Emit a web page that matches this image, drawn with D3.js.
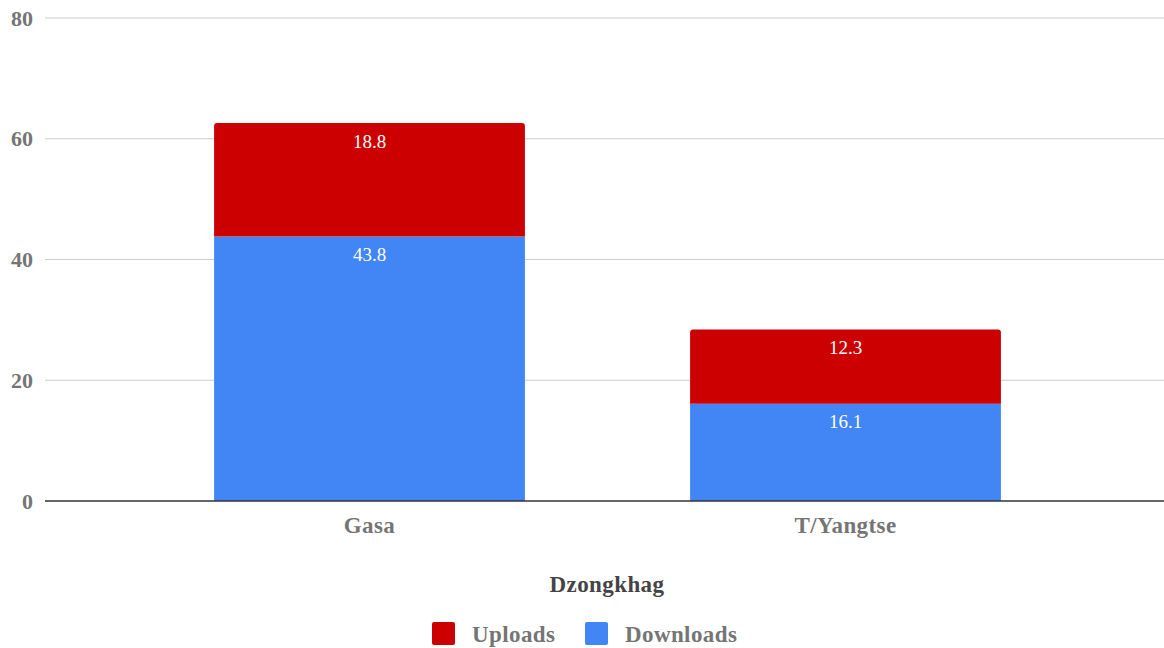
<!DOCTYPE html>
<html><head><meta charset="utf-8">
<script src="https://cdn.jsdelivr.net/npm/d3@7"></script>
<style>body{margin:0;background:#fff}svg{display:block}</style>
</head><body>
<svg id="c" width="1164" height="648"></svg>
<script>
const categories = ["Gasa", "T/Yangtse"];
const seriesNames = ["Downloads", "Uploads"];
const downloads = [43.8, 16.1];
const uploads = [18.8, 12.3];
const yTicks = [0, 20, 40, 60, 80];
const colors = {Downloads: "#4285f4", Uploads: "#cc0000"};

const svg = d3.select("#c");
const font = "'Liberation Serif','Times New Roman',serif";
const x = d3.scaleBand().domain(categories).range([131.5, 1083.5]).paddingInner(0.347).paddingOuter(0.1735);
const y = d3.scaleLinear().domain([0, 80]).range([501, 18]);

// gridlines
svg.append("g").selectAll("line").data(yTicks.filter(d => d !== 0)).join("line")
  .attr("x1", 45).attr("x2", 1164).attr("y1", d => y(d)).attr("y2", d => y(d))
  .attr("stroke", "#cccccc").attr("stroke-width", 1.2);

// y tick labels
svg.append("g").selectAll("text").data(yTicks).join("text")
  .attr("x", 33).attr("y", d => y(d)).attr("dy", "0.35em").attr("text-anchor", "end")
  .attr("font-family", font).attr("font-weight", "bold").attr("font-size", 22).attr("fill", "#757575")
  .text(d => d);

const rows = categories.map((c, i) => ({cat: c, Downloads: downloads[i], Uploads: uploads[i]}));
const stack = d3.stack().keys(seriesNames)(rows);

const bw = x.bandwidth();
stack.forEach((layer, li) => {
  const g = svg.append("g");
  layer.forEach(d => {
    const x0 = x(d.data.cat), y0 = y(d[0]), y1 = y(d[1]);
    const isTop = li === stack.length - 1;
    if (isTop) {
      const r = 3;
      g.append("path").attr("fill", colors[layer.key])
        .attr("d", `M${x0},${y0}V${y1 + r}Q${x0},${y1} ${x0 + r},${y1}H${x0 + bw - r}Q${x0 + bw},${y1} ${x0 + bw},${y1 + r}V${y0}Z`);
    } else {
      g.append("rect").attr("x", x0).attr("y", y1).attr("width", bw).attr("height", y0 - y1).attr("fill", colors[layer.key]);
    }
    g.append("text").attr("x", x0 + bw / 2).attr("y", y1 + 18).attr("dy", "0.35em").attr("text-anchor", "middle")
      .attr("font-family", font).attr("font-size", 19).attr("fill", "#ffffff")
      .text((d[1] - d[0]).toFixed(1));
  });
});

// baseline
svg.append("line").attr("x1", 45).attr("x2", 1164).attr("y1", y(0)).attr("y2", y(0))
  .attr("stroke", "#333333").attr("stroke-width", 1.5);

// category labels
svg.append("g").selectAll("text").data(categories).join("text")
  .attr("x", d => x(d) + bw / 2).attr("y", 525).attr("dy", "0.35em").attr("text-anchor", "middle")
  .attr("font-family", font).attr("font-weight", "bold").attr("font-size", 23).attr("letter-spacing", 0.4)
  .attr("fill", "#757575")
  .text(d => d);

// axis title
svg.append("text").attr("x", 607).attr("y", 584).attr("dy", "0.35em").attr("text-anchor", "middle")
  .attr("font-family", font).attr("font-weight", "bold").attr("font-size", 23).attr("letter-spacing", 0.4)
  .attr("fill", "#444444")
  .text("Dzongkhag");

// legend
const legend = [{key: "Uploads", x: 432, tx: 472}, {key: "Downloads", x: 585, tx: 625}];
const lg = svg.append("g");
legend.forEach(l => {
  lg.append("rect").attr("x", l.x).attr("y", 622).attr("width", 23).attr("height", 23).attr("rx", 2)
    .attr("fill", colors[l.key]);
  lg.append("text").attr("x", l.tx).attr("y", 633.5).attr("dy", "0.35em")
    .attr("font-family", font).attr("font-weight", "bold").attr("font-size", 23).attr("letter-spacing", 0.4)
    .attr("fill", "#757575")
    .text(l.key);
});
</script>
</body></html>
